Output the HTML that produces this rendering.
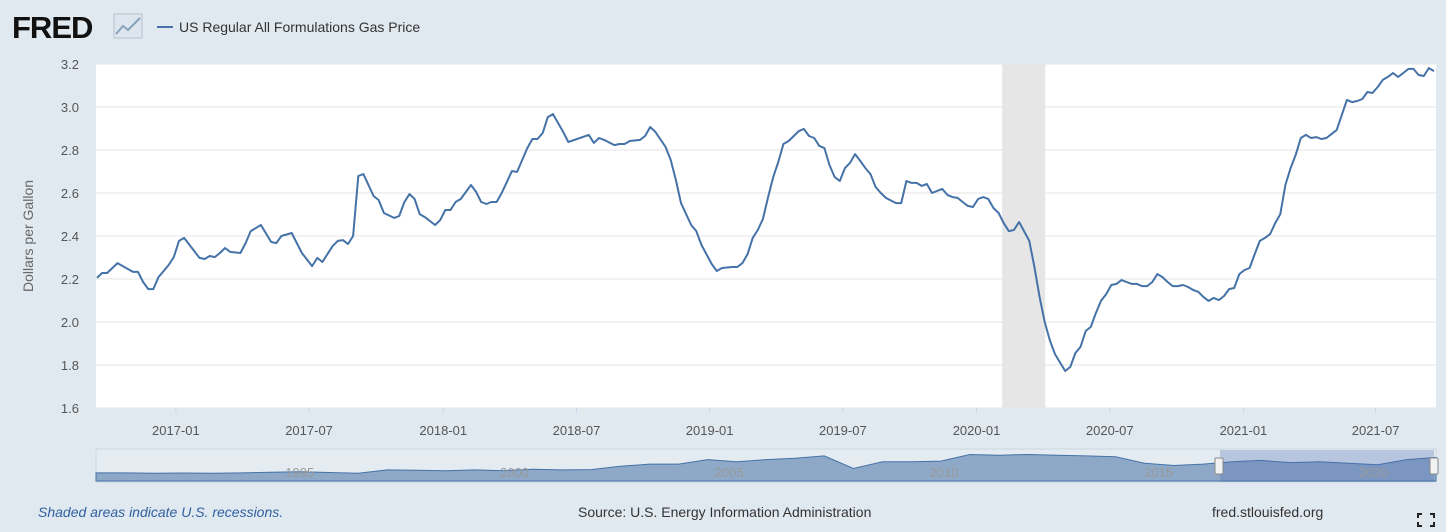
<!DOCTYPE html>
<html><head><meta charset="utf-8"><style>
body{margin:0;background:#e1e9f0;width:1446px;height:532px;overflow:hidden;font-family:"Liberation Sans",sans-serif}
svg{position:absolute;left:0;top:0}
</style></head><body>
<svg id="c" width="1446" height="532">
<rect x="0" y="0" width="1446" height="532" fill="#e1e9f0"/>
<text x="12" y="38" font-size="31" font-weight="bold" fill="#111" letter-spacing="-1">FRED</text>
<g><rect x="114" y="14" width="28" height="24" fill="#dde6ee" stroke="#b5c3d0"/><polyline points="116,34 123,26 128,30 140,18" fill="none" stroke="#8aa2b8" stroke-width="2"/></g>
<line x1="157" y1="27" x2="173" y2="27" stroke="#4572a7" stroke-width="2"/>
<text x="179" y="32" font-size="14" fill="#333">US Regular All Formulations Gas Price</text>
<rect x="96" y="64" width="1340" height="344" fill="#fff"/>
<g id="grid"></g>
<rect id="rec" fill="#e6e6e6"/>
<g id="yl"></g><g id="xl"></g>
<text transform="translate(33,236) rotate(-90)" text-anchor="middle" font-size="14" fill="#666">Dollars per Gallon</text>
<path id="line" fill="none" stroke="#4572a7" stroke-width="2" stroke-linejoin="round"/>
<rect x="96" y="449" width="1340" height="33" fill="#e4ebf1" stroke="#cdd6df"/>
<path id="nav" fill="#8ea9c8" stroke="#4572a7" stroke-width="1"/>
<rect x="1220" y="450" width="214" height="32" fill="rgba(80,110,180,0.3)"/>
<g id="navl"></g>
<rect x="1215" y="458" width="8" height="16" fill="#f2f2f2" stroke="#888" rx="1"/>
<rect x="1430" y="458" width="8" height="16" fill="#f2f2f2" stroke="#888" rx="1"/>
<text x="38" y="517" font-size="14" font-style="italic" fill="#3060a0">Shaded areas indicate U.S. recessions.</text>
<text x="578" y="517" font-size="14" fill="#333">Source: U.S. Energy Information Administration</text>
<text x="1212" y="517" font-size="14" fill="#333">fred.stlouisfed.org</text>
<g stroke="#222" stroke-width="2" fill="none"><path d="M1418 518v-4h4M1430 514h4v4M1418 522v4h4M1434 522v4h-4"/></g>
</svg>
<script>
const weeks=[0,1,2,4,7,8,9,10,11,12,14,15,16,17,20,21,22,23,24,25,26,28,29,30,32,34,35,36,38,40,42,43,44,46,47,48,49,50,51,52,54,55,56,58,59,60,61,62,63,64,66,67,68,69,70,71,73,74,75,76,77,78,79,81,82,84,85,86,87,88,89,90,91,92,96,97,98,99,101,102,103,104,106,107,108,109,111,112,113,114,116,117,118,120,121,122,124,125,126,127,128,129,130,131,132,133,134,135,137,138,139,140,141,142,143,144,145,146,147,148,149,150,151,152,153,154,156,157,158,159,160,161,162,163,165,166,167,168,169,170,171,172,173,174,175,176,177,178,179,180,182,183,184,185,186,187,189,190,191,192,193,194,195,196,197,198,199,200,201,202,203,204,205,206,207,208,209,210,211,212,213,214,215,216,217,218,219,220,221,222,223,224,225,226,227,228,229,230,231,232,233,234,235,236,237,238,239,240,241,242,243,244,245,246,247,248,249,250,251,252,253,254,255,256,257,258,259,260,261];
const prices=[2.205,2.228,2.228,2.274,2.233,2.233,2.186,2.153,2.153,2.209,2.265,2.302,2.377,2.391,2.298,2.293,2.307,2.302,2.321,2.344,2.326,2.321,2.367,2.423,2.451,2.372,2.367,2.400,2.414,2.321,2.260,2.298,2.279,2.353,2.377,2.381,2.363,2.400,2.679,2.688,2.586,2.567,2.507,2.484,2.493,2.558,2.595,2.572,2.502,2.488,2.451,2.474,2.521,2.521,2.558,2.572,2.637,2.605,2.558,2.549,2.558,2.558,2.600,2.702,2.698,2.809,2.851,2.851,2.879,2.953,2.967,2.926,2.884,2.837,2.870,2.833,2.856,2.847,2.823,2.828,2.828,2.842,2.847,2.865,2.907,2.884,2.814,2.754,2.660,2.553,2.451,2.423,2.358,2.270,2.237,2.251,2.256,2.256,2.274,2.316,2.391,2.428,2.479,2.581,2.674,2.744,2.828,2.842,2.888,2.898,2.865,2.856,2.819,2.809,2.730,2.674,2.656,2.716,2.740,2.781,2.749,2.716,2.688,2.628,2.600,2.577,2.553,2.553,2.656,2.647,2.647,2.633,2.642,2.600,2.619,2.591,2.581,2.577,2.558,2.540,2.535,2.572,2.581,2.572,2.530,2.507,2.460,2.423,2.428,2.465,2.377,2.256,2.116,2.000,1.916,1.851,1.772,1.791,1.856,1.884,1.958,1.977,2.042,2.098,2.130,2.172,2.177,2.195,2.186,2.177,2.177,2.167,2.167,2.186,2.223,2.209,2.186,2.167,2.167,2.172,2.163,2.149,2.140,2.116,2.098,2.112,2.102,2.121,2.153,2.158,2.223,2.242,2.251,2.316,2.377,2.391,2.409,2.460,2.502,2.637,2.716,2.777,2.856,2.870,2.856,2.860,2.851,2.856,2.874,2.893,2.963,3.033,3.023,3.028,3.037,3.070,3.065,3.093,3.126,3.140,3.158,3.140,3.158,3.177,3.177,3.149,3.144,3.181,3.167];
const yTicks=[1.6,1.8,2.0,2.2,2.4,2.6,2.8,3.0,3.2];
const xTickLabels=["2017-01","2017-07","2018-01","2018-07","2019-01","2019-07","2020-01","2020-07","2021-01","2021-07"];
const xTickWeeks=[15.4,41.4,67.6,93.6,119.6,145.6,171.7,197.7,223.8,249.6];
const recession=[176.7,185.1];
const navYears=["1995","2000","2005","2010","2015","2020"];
const navYearPos=[1995,2000,2005,2010,2015,2020];
const navVals=[1.1,1.1,1.05,1.08,1.05,1.1,1.2,1.25,1.15,1.05,1.5,1.45,1.4,1.5,1.4,1.6,1.5,1.55,2.0,2.3,2.3,2.9,2.6,2.9,3.1,3.4,1.7,2.6,2.6,2.7,3.6,3.5,3.6,3.5,3.4,3.3,2.4,2.1,2.3,2.6,2.8,2.5,2.6,2.4,2.2,2.9,3.2];
const navStart=1990.5,navEnd=2021.7;
const NS="http://www.w3.org/2000/svg";
const X0=97,X1=1434,Y0=408,Y1=64,vmin=1.6,vmax=3.2,wmax=261;
const xs=w=>X0+(w/wmax)*(X1-X0);
const ys=v=>Y0-(v-vmin)/(vmax-vmin)*(Y0-Y1);
const g=document.getElementById('grid'),yl=document.getElementById('yl'),xl=document.getElementById('xl');
yTicks.forEach(t=>{
 const l=document.createElementNS(NS,'line');l.setAttribute('x1',96);l.setAttribute('x2',1436);l.setAttribute('y1',ys(t));l.setAttribute('y2',ys(t));l.setAttribute('stroke','#e6e6e6');
 
 
 g.appendChild(l);
 const tx=document.createElementNS(NS,'text');tx.setAttribute('x',79);tx.setAttribute('y',ys(t)+5);tx.setAttribute('text-anchor','end');tx.setAttribute('font-size','13');tx.setAttribute('fill','#555');tx.textContent=t.toFixed(1);
 
 
 yl.appendChild(tx);
});
xTickLabels.forEach((s,i)=>{
 const x=xs(xTickWeeks[i]);
 const tk=document.createElementNS(NS,'line');tk.setAttribute('x1',x);tk.setAttribute('x2',x);tk.setAttribute('y1',408);tk.setAttribute('y2',413);tk.setAttribute('stroke','#ccd6eb');
 
 
 xl.appendChild(tk);
 const tx=document.createElementNS(NS,'text');tx.setAttribute('x',x);tx.setAttribute('y',435);tx.setAttribute('text-anchor','middle');tx.setAttribute('font-size','13');tx.setAttribute('fill','#555');tx.textContent=s;
 
 
 xl.appendChild(tx);
});
const r=document.getElementById('rec');r.setAttribute('x',xs(recession[0]));r.setAttribute('y',64);r.setAttribute('width',xs(recession[1])-xs(recession[0]));r.setAttribute('height',344);
document.getElementById('line').setAttribute('d',weeks.map((w,i)=>(i?'L':'M')+xs(w).toFixed(1)+' '+ys(prices[i]).toFixed(1)).join(''));
const nx=yr=>96+(yr-navStart)/(navEnd-navStart)*1340, ny=v=>481-(v/3.8)*28;
let d='M96 481';navVals.forEach((v,i)=>{d+='L'+nx(navStart+i*(navEnd-navStart)/(navVals.length-1)).toFixed(1)+' '+ny(v).toFixed(1);});d+='L1436 481Z';
document.getElementById('nav').setAttribute('d',d);
const nl=document.getElementById('navl');
navYears.forEach((s,i)=>{const t=document.createElementNS(NS,'text');t.setAttribute('x',nx(navYearPos[i])-4);t.setAttribute('y',477);t.setAttribute('font-size','13');t.setAttribute('fill','#999');t.textContent=s;
 
 
 nl.appendChild(t);});
</script>
</body></html>
